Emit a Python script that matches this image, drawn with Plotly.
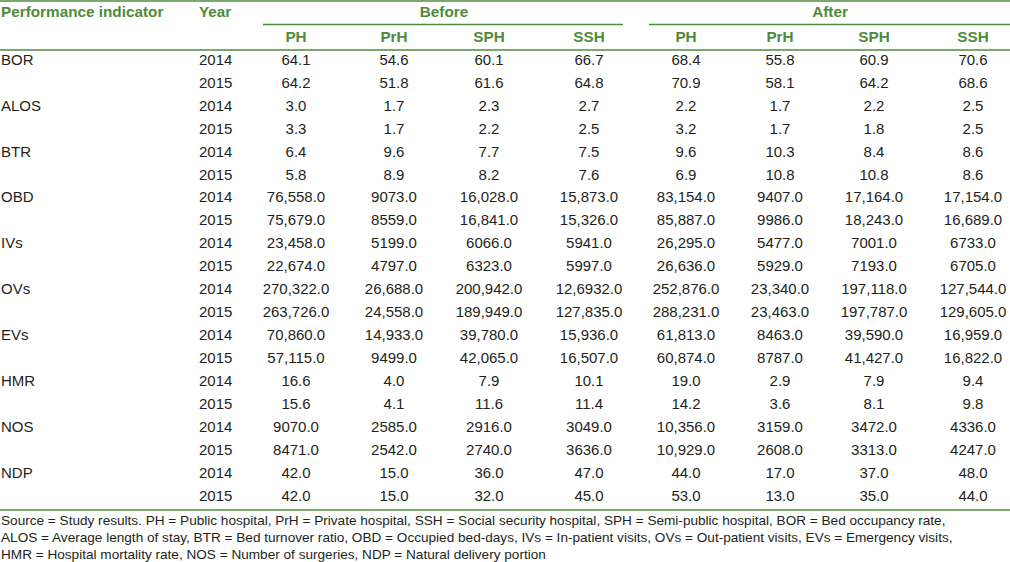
import plotly.graph_objects as go

# ---------------- data ----------------
indicators = ["BOR", "ALOS", "BTR", "OBD", "IVs", "OVs", "EVs", "HMR", "NOS", "NDP"]
years = ["2014", "2015"]
group_labels = ["Before", "After"]
hospital_labels = ["PH", "PrH", "SPH", "SSH"]

before_PH = ["64.1", "64.2", "3.0", "3.3", "6.4", "5.8", "76,558.0", "75,679.0", "23,458.0", "22,674.0",
             "270,322.0", "263,726.0", "70,860.0", "57,115.0", "16.6", "15.6", "9070.0", "8471.0", "42.0", "42.0"]
before_PrH = ["54.6", "51.8", "1.7", "1.7", "9.6", "8.9", "9073.0", "8559.0", "5199.0", "4797.0",
              "26,688.0", "24,558.0", "14,933.0", "9499.0", "4.0", "4.1", "2585.0", "2542.0", "15.0", "15.0"]
before_SPH = ["60.1", "61.6", "2.3", "2.2", "7.7", "8.2", "16,028.0", "16,841.0", "6066.0", "6323.0",
              "200,942.0", "189,949.0", "39,780.0", "42,065.0", "7.9", "11.6", "2916.0", "2740.0", "36.0", "32.0"]
before_SSH = ["66.7", "64.8", "2.7", "2.5", "7.5", "7.6", "15,873.0", "15,326.0", "5941.0", "5997.0",
              "12,6932.0", "127,835.0", "15,936.0", "16,507.0", "10.1", "11.4", "3049.0", "3636.0", "47.0", "45.0"]
after_PH = ["68.4", "70.9", "2.2", "3.2", "9.6", "6.9", "83,154.0", "85,887.0", "26,295.0", "26,636.0",
            "252,876.0", "288,231.0", "61,813.0", "60,874.0", "19.0", "14.2", "10,356.0", "10,929.0", "44.0", "53.0"]
after_PrH = ["55.8", "58.1", "1.7", "1.7", "10.3", "10.8", "9407.0", "9986.0", "5477.0", "5929.0",
             "23,340.0", "23,463.0", "8463.0", "8787.0", "2.9", "3.6", "3159.0", "2608.0", "17.0", "13.0"]
after_SPH = ["60.9", "64.2", "2.2", "1.8", "8.4", "10.8", "17,164.0", "18,243.0", "7001.0", "7193.0",
             "197,118.0", "197,787.0", "39,590.0", "41,427.0", "7.9", "8.1", "3472.0", "3313.0", "37.0", "35.0"]
after_SSH = ["70.6", "68.6", "2.5", "2.5", "8.6", "8.6", "17,154.0", "16,689.0", "6733.0", "6705.0",
             "127,544.0", "129,605.0", "16,959.0", "16,822.0", "9.4", "9.8", "4336.0", "4247.0", "48.0", "44.0"]

footer_lines = [
    "Source = Study results. PH = Public hospital, PrH = Private hospital, SSH = Social security hospital, SPH = Semi-public hospital, BOR = Bed occupancy rate,",
    "ALOS = Average length of stay, BTR = Bed turnover ratio, OBD = Occupied bed-days, IVs = In-patient visits, OVs = Out-patient visits, EVs = Emergency visits,",
    "HMR = Hospital mortality rate, NOS = Number of surgeries, NDP = Natural delivery portion",
]

# ---------------- layout / style ----------------
W, H = 1010, 562
FONT = "Liberation Sans, Arial, Helvetica, sans-serif"
GREEN = "#4f8b3b"
TEXT = "#231f20"
FS = 15
FS_HEAD = 15.3
FS_FOOT = 13.6

value_cols = [before_PH, before_PrH, before_SPH, before_SSH, after_PH, after_PrH, after_SPH, after_SSH]
col_x = [296, 394, 489, 589, 686, 780, 874, 973]
group_x = [444, 830]
group_spans = [(263, 623), (649, 1010)]
x_label, x_year = 3, 201
y_title, y_head = 13, 38
row0, row_step = 61, 22.95
footer_y0, footer_step = 522, 17

n_rows = len(indicators) * len(years)
row_y = [row0 + i * row_step for i in range(n_rows)]

fig = go.Figure()

def text_trace(xs, ys, texts, pos, color, size=FS):
    fig.add_trace(go.Scatter(
        x=xs, y=ys, text=texts, mode="text", textposition=pos,
        textfont=dict(family=FONT, size=size, color=color),
        hoverinfo="skip", showlegend=False, cliponaxis=False,
    ))

# header
text_trace([x_label - 2], [y_title], ["<b>Performance indicator</b>"], "middle right", GREEN, FS_HEAD)
text_trace([x_year - 2], [y_title], ["<b>Year</b>"], "middle right", GREEN, FS_HEAD)
text_trace(group_x, [y_title] * 2, [f"<b>{g}</b>" for g in group_labels], "middle center", GREEN, FS_HEAD)
text_trace(col_x, [y_head] * len(col_x), [f"<b>{h}</b>" for h in hospital_labels * 2], "middle center", GREEN, FS_HEAD)

# row labels
ind_labels = []
for ind in indicators:
    ind_labels += [ind, ""]
text_trace([x_label - 2] * n_rows, row_y, ind_labels, "middle right", TEXT)
text_trace([x_year - 2] * n_rows, row_y, years * len(indicators), "middle right", TEXT)

# values
for cx, col in zip(col_x, value_cols):
    text_trace([cx] * n_rows, row_y, col, "middle center", TEXT)

# footer
text_trace([x_label - 2] * len(footer_lines),
           [footer_y0 + i * footer_step for i in range(len(footer_lines))],
           footer_lines, "middle right", TEXT, FS_FOOT)

# rules
line = dict(color=GREEN, width=1.3)
shapes = [
    dict(type="line", x0=0, x1=W, y0=1, y1=1, line=line),
    dict(type="line", x0=0, x1=W, y0=50, y1=50, line=line),
    dict(type="line", x0=0, x1=W, y0=510, y1=510, line=line),
]
for a, b in group_spans:
    shapes.append(dict(type="line", x0=a, x1=b, y0=24.5, y1=24.5, line=line))

fig.update_layout(
    width=W, height=H,
    margin=dict(l=0, r=0, t=0, b=0),
    paper_bgcolor="white", plot_bgcolor="white",
    xaxis=dict(range=[0, W], visible=False, fixedrange=True),
    yaxis=dict(range=[H, 0], visible=False, fixedrange=True),
    shapes=shapes,
    showlegend=False,
)

fig.write_html(
    "out.html",
    config={"displayModeBar": False},
    post_script="document.body.style.margin='0';document.body.style.overflow='hidden';",
)
